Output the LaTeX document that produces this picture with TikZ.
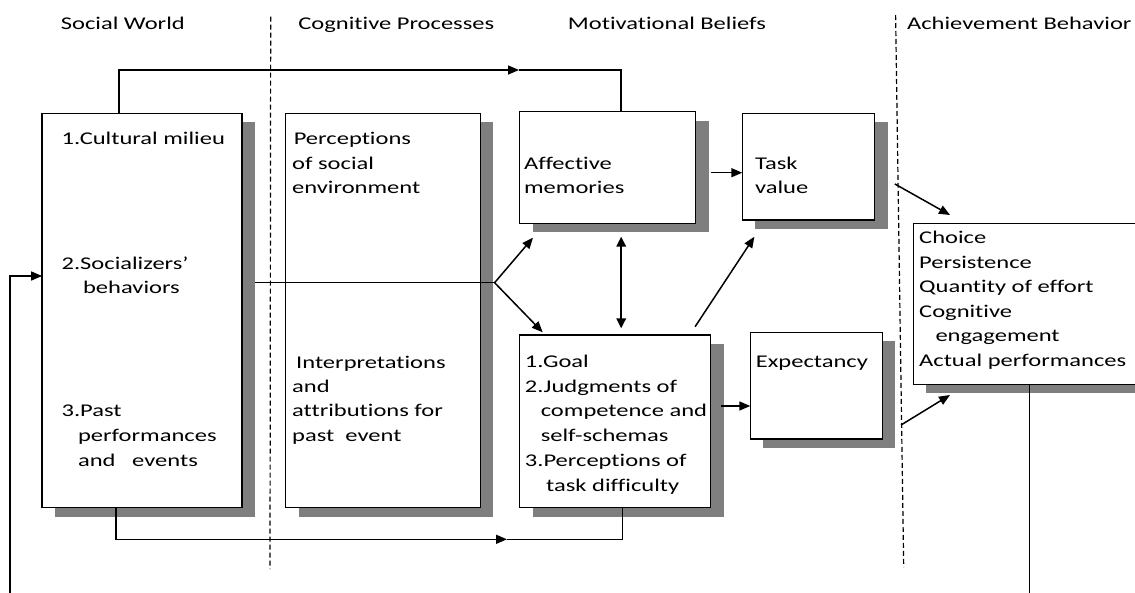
\documentclass[tikz,border=0pt]{standalone}
\usepackage{fontspec}
\setmainfont{Carlito}[FakeStretch=1.37,Ligatures={NoCommon}]
\usetikzlibrary{arrows.meta,calc,shadows}
\definecolor{shadowgray}{HTML}{7F7F7F}
\begin{document}
\begin{tikzpicture}[x=1pt,y=-1pt,
  box/.style={draw,line width=1.4pt,fill=white,inner sep=0pt,outer sep=0pt,anchor=north west,
    general shadow={fill=shadowgray,shadow xshift=13pt,shadow yshift=-9pt}},
  txt/.style={anchor=base west,inner sep=0pt,font=\fontsize{17.9pt}{25pt}\selectfont},
  conn/.style={line width=1.5pt},
  arr/.style={conn,-{Triangle[length=11pt,width=9pt]}},
  dbl/.style={line width=2pt,{Triangle[length=10pt,width=9.5pt]}-{Triangle[length=10pt,width=9.5pt]}},
  sepline/.style={line width=1.2pt,dash pattern=on 5pt off 3pt}]
\useasboundingbox (0,0) rectangle (1135,592);
\clip (0,0) rectangle (1135,592);
\fill[white] (0,0) rectangle (1135,592);

% headings
\node[txt] (h1) at (60.7,29) {Social World};
\node[txt] (h2) at (298.2,29) {Cognitive Processes};
\node[txt] (h3) at (567.7,29) {Motivational Beliefs};
\node[txt] (h4) at (906.9,29) {Achievement Behavior};

% separators
\coordinate (d1t) at (270.7,16.7); \coordinate (d1b) at (270,569);
\coordinate (d2t) at (895.6,15);   \coordinate (d2b) at (903.7,567);
\draw[sepline] (d1t) -- (d1b);
\draw[sepline] (d2t) -- (d2b);

% boxes
\node[box,minimum width=200pt,minimum height=394.4pt] (sw) at (42.1,113.3) {};
\node[box,minimum width=194.7pt,minimum height=394.4pt] (cp) at (285.7,113.3) {};
\node[box,minimum width=175.8pt,minimum height=111.6pt] (aff) at (519.7,111.7) {};
\node[box,minimum width=132.4pt,minimum height=106.7pt] (tv) at (742.3,113.3) {};
\node[box,minimum width=190.9pt,minimum height=172.7pt] (goal) at (519.7,335) {};
\node[box,minimum width=132pt,minimum height=106.7pt] (exp) at (750.3,332.3) {};
\node[box,minimum width=240pt,minimum height=161pt] (ach) at (913.3,223.3) {};

% texts: social world
\node[txt] (sw1) at (61.4,144) {1.Cultural milieu};
\node[txt] (sw2) at (61.4,269) {2.Socializers’};
\node[txt] (sw3) at (82.9,293) {behaviors};
\node[txt] (sw4) at (61.4,416) {3.Past};
\node[txt] (sw5) at (77.9,441) {performances};
\node[txt] (sw6) at (77.9,466) {and\ \ \ events};
% cognitive processes
\node[txt] (cp1) at (293.6,144) {Perceptions};
\node[txt] (cp2) at (292,169) {of social};
\node[txt] (cp3) at (292,193) {environment};
\node[txt] (cp4) at (296,368) {Interpretations};
\node[txt] (cp5) at (292,392) {and};
\node[txt] (cp6) at (292,416) {attributions for};
\node[txt] (cp7) at (292,441) {past\ \ event};
% affective / task value
\node[txt] (af1) at (523.9,169) {Affective};
\node[txt] (af2) at (523.9,193) {memories};
\node[txt] (tv1) at (754.9,169) {Task};
\node[txt] (tv2) at (754.9,193) {value};
% goal box
\node[txt] (g1) at (524.7,367) {1.Goal};
\node[txt] (g2) at (524.7,392) {2.Judgments of};
\node[txt] (g3) at (540.6,416) {competence and};
\node[txt] (g4) at (540.6,441) {self-schemas};
\node[txt] (g5) at (524.7,466) {3.Perceptions of};
\node[txt] (g6) at (546,491) {task difficulty};
% expectancy
\node[txt] (ex1) at (755.7,367) {Expectancy};
% achievement
\node[txt] (ab1) at (919,243.5) {Choice};
\node[txt] (ab2) at (919,268) {Persistence};
\node[txt] (ab3) at (919,292.7) {Quantity of effort};
\node[txt] (ab4) at (919,317) {Cognitive};
\node[txt] (ab5) at (935.3,341.5) {engagement};
\node[txt] (ab6) at (919,366.7) {Actual performances};

% connectors
\coordinate (topA) at (519,70);
\draw[arr] ($(sw.north west)+(77,0)$) |- (topA);
\draw[conn] (topA) -| ($(aff.north west)+(101.3,0)$);

\coordinate (br) at (494.6,282.7);
\draw[conn] ($(sw.east)+(13,-27.8)$) -- (br);
\draw[arr] (br) -- ($(aff.south west)+(13.3,14.4)$);
\draw[arr] (br) -- ($(goal.north west)+(23,-2.7)$);

\draw[arr] ($(aff.east)+(15,5.2)$) coordinate (a2t) -- (a2t -| tv.west);
\draw[dbl] ($(aff.south west)+(101.5,13.4)$) -- ($(goal.north west)+(101.5,-6.7)$);
\draw[arr] ($(goal.north east)+(-15.5,-8.3)$) -- ($(tv.south west)+(12.1,16.7)$);
\draw[arr] ($(goal.east)+(10.4,-15.35)$) coordinate (g2e) -- (g2e -| exp.west);
\draw[arr] ($(tv.east)+(20.1,17.3)$) -- ($(ach.north west)+(36.7,-8.3)$);
\draw[arr] ($(exp.south east)+(18.7,-14)$) -- ($(ach.south west)+(36.7,10.7)$);

\coordinate (botA) at (507,539.3);
\draw[arr] ($(sw.south west)+(73.9,0)$) |- (botA);
\draw[conn] (botA) -| ($(goal.south west)+(103,0)$);

\coordinate (fbBR) at (1029.7,610);
\coordinate (fbBL) at (10,610);
\draw[arr] ($(ach.south west)+(116.4,0)$) -- (fbBR) -- (fbBL) |- ($(sw.north west)+(0,162.7)$);
\end{tikzpicture}
\end{document}
